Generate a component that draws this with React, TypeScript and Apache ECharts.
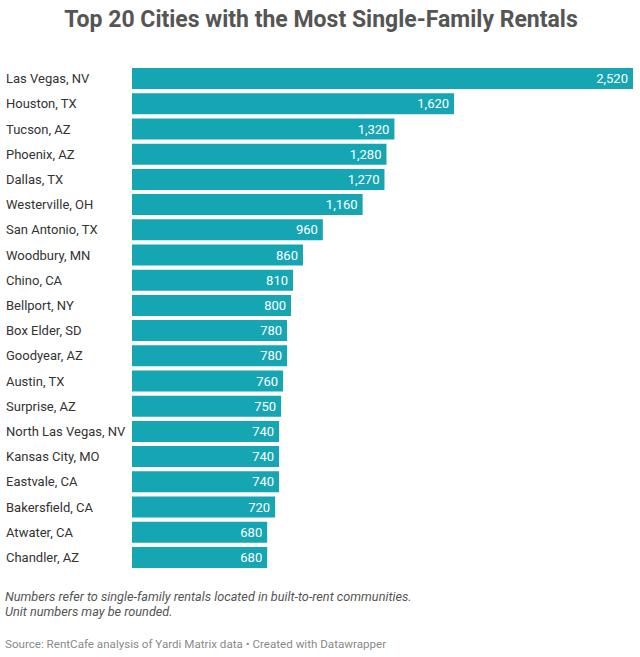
import React, { useEffect, useRef } from "react";
import * as echarts from "echarts";

const cities = [
  "Las Vegas, NV", "Houston, TX", "Tucson, AZ", "Phoenix, AZ", "Dallas, TX",
  "Westerville, OH", "San Antonio, TX", "Woodbury, MN", "Chino, CA", "Bellport, NY",
  "Box Elder, SD", "Goodyear, AZ", "Austin, TX", "Surprise, AZ", "North Las Vegas, NV",
  "Kansas City, MO", "Eastvale, CA", "Bakersfield, CA", "Atwater, CA", "Chandler, AZ",
];
const rentals = [
  2520, 1620, 1320, 1280, 1270, 1160, 960, 860, 810, 800,
  780, 780, 760, 750, 740, 740, 740, 720, 680, 680,
];

const titleText = "Top 20 Cities with the Most Single-Family Rentals";
const noteLines = [
  "Numbers refer to single-family rentals located in built-to-rent communities.",
  "Unit numbers may be rounded.",
];
const sourceText = "Source: RentCafe analysis of Yardi Matrix data • Created with Datawrapper";

const FONT = "Roboto, 'Noto Sans', sans-serif";

export default function App() {
  const ref = useRef<HTMLDivElement>(null);
  useEffect(() => {
    document.body.style.margin = "0";
    const chart = echarts.init(ref.current!, null, { renderer: "svg" });
    chart.setOption({
      animation: false,
      backgroundColor: "#ffffff",
      textStyle: { fontFamily: FONT },
      grid: { left: 132, right: 7, top: 66, height: 504 },
      xAxis: { type: "value", min: 0, max: 2520, show: false },
      yAxis: {
        type: "category",
        data: cities,
        inverse: true,
        axisLine: { show: false },
        axisTick: { show: false },
        splitLine: { show: false },
        axisLabel: {
          align: "left",
          margin: 126,
          color: "#333333",
          fontSize: 13,
          fontFamily: FONT,
        },
      },
      series: [
        {
          type: "bar",
          data: rentals,
          barWidth: 21,
          itemStyle: { color: "#15a5b3" },
          label: {
            show: true,
            position: "insideRight",
            distance: 5,
            color: "#ffffff",
            fontSize: 13,
            fontFamily: FONT,
            formatter: (p: any) => Number(p.value).toLocaleString("en-US"),
          },
        },
      ],
      graphic: [
        {
          type: "text",
          x: 321,
          y: 19,
          style: {
            text: titleText,
            align: "center",
            verticalAlign: "middle",
            fontSize: 23,
            fontWeight: "bold",
            fontFamily: FONT,
            fill: "#555555",
          },
        },
        ...noteLines.map((t, i) => ({
          type: "text",
          x: 5,
          y: 596 + i * 15,
          style: {
            text: t,
            align: "left",
            verticalAlign: "middle",
            fontSize: 12.7,
            fontStyle: "italic",
            fontFamily: FONT,
            fill: "#555555",
          },
        })),
        {
          type: "text",
          x: 5,
          y: 644,
          style: {
            text: sourceText,
            align: "left",
            verticalAlign: "middle",
            fontSize: 11.6,
            fontFamily: FONT,
            fill: "#8a8a8a",
          },
        },
      ],
    });
    return () => chart.dispose();
  }, []);
  return <div ref={ref} style={{ width: 640, height: 657 }} />;
}
